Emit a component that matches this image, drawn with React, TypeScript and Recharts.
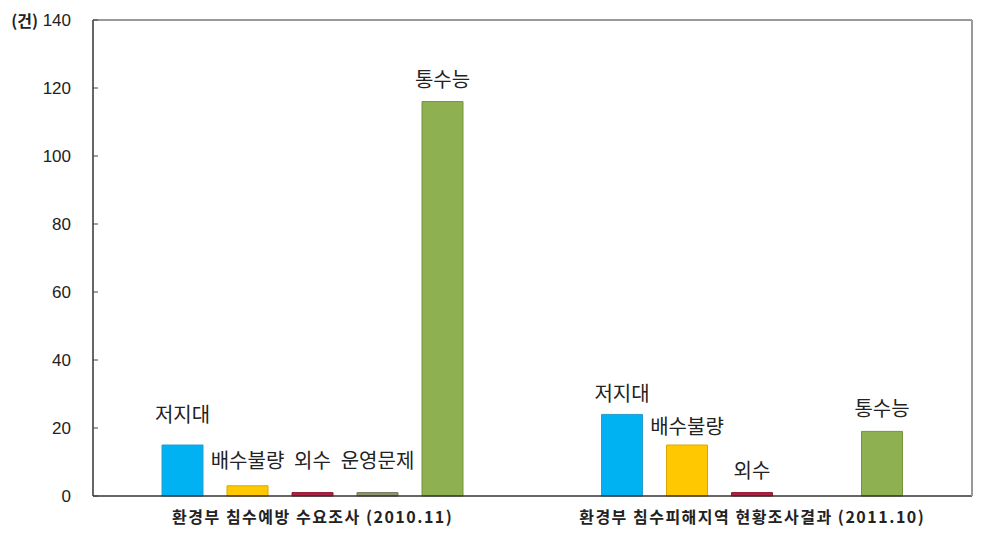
import React from 'react';
import { BarChart, Bar, XAxis, YAxis, ReferenceLine, LabelList } from 'recharts';

const categories = ['환경부 침수예방 수요조사 (2010.11)', '환경부 침수피해지역  현황조사결과 (2011.10)'];
const seriesNames = ['저지대', '배수불량', '외수', '운영문제', '통수능'];
const lowland = [15, 24];
const drainage = [3, 15];
const external = [1, 1];
const operation = [1, 0];
const capacity = [116, 19];
const yTicks = [0, 20, 40, 60, 80, 100, 120, 140];

const seriesValues = [lowland, drainage, external, operation, capacity];
const colors = ['#00B2F2', '#FFC800', '#B02040', '#8E9672', '#8FB050'];
const strokes = ['#2A9CCC', '#D9A800', '#8A1830', '#747A5C', '#76923E'];
// how far above the bar top each label sits (per series, per group)
const labelLift = [[32, 22], [26, 20], [33, 23], [33, 0], [23, 24]];

const data = categories.map((name, i) => {
  const row: any = { name };
  seriesNames.forEach((s, k) => { row[s] = seriesValues[k][i]; });
  return row;
});

const korean = '"Noto Sans CJK KR", "Noto Sans", sans-serif';

const makeLabel = (k: number) => (props: any) => {
  const { x, y, width, value, index } = props;
  if (!value) return null;
  return (
    <text x={x + width / 2} y={y - labelLift[k][index]} textAnchor="middle" dominantBaseline="central"
      fontFamily={korean} fontSize={20} fill="#222">
      {seriesNames[k]}
    </text>
  );
};

const YTick = (props: any) => {
  const { x, y, payload } = props;
  return (
    <g>
      <line x1={x} x2={x + 5} y1={y} y2={y} stroke="#444" />
      <text x={x - 22} y={y} textAnchor="end" dominantBaseline="central"
        fontFamily='"Liberation Sans", Arial, sans-serif' fontSize={17} fill="#222">{payload.value}</text>
      {payload.value === 140 && (
        <text x={38} y={y} textAnchor="end" dominantBaseline="central"
          fontFamily={korean} fontSize={16} fontWeight={700} fill="#222">(건)</text>
      )}
    </g>
  );
};

export default function App() {
  return (
    <div style={{ position: 'absolute', left: 0, top: 0, background: '#fff' }}>
      <BarChart width={982} height={541} data={data} barSize={41} barGap={24}
        margin={{ top: 20, right: 9, left: 0, bottom: 0 }}>
        <XAxis dataKey="name" height={45} tickLine={false} tickSize={0} tickMargin={16}
          axisLine={{ stroke: '#333', strokeWidth: 1.5 }}
          tick={{ fontFamily: korean, fontSize: 16, fontWeight: 700, fill: '#222', letterSpacing: 1.5, style: { whiteSpace: 'pre' } }} />
        <YAxis yAxisId="l" width={93} domain={[0, 140]} ticks={yTicks} tickLine={false}
          tickSize={0} tickMargin={0} axisLine={{ stroke: '#333', strokeWidth: 1.5 }}
          tick={<YTick />} />
        <YAxis yAxisId="r" orientation="right" width={1} domain={[0, 140]} tick={false}
          tickLine={false} axisLine={{ stroke: '#999', strokeWidth: 2 }} />
        <ReferenceLine yAxisId="l" y={140} stroke="#999" strokeWidth={2} />
        {seriesNames.map((s, k) => (
          <Bar key={s} yAxisId="l" dataKey={s} fill={colors[k]} stroke={strokes[k]} strokeWidth={1}
            isAnimationActive={false}>
            <LabelList dataKey={s} content={makeLabel(k)} />
          </Bar>
        ))}
      </BarChart>
    </div>
  );
}
